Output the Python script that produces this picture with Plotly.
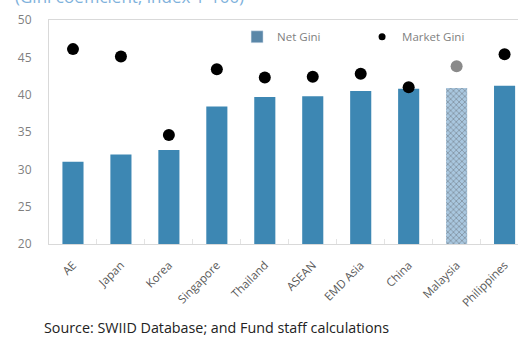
import plotly.graph_objects as go

categories = ["AE", "Japan", "Korea", "Singapore", "Thailand", "ASEAN", "EMD Asia", "China", "Malaysia", "Philippines"]
net_gini = [31.0, 32.0, 32.6, 38.4, 39.7, 39.8, 40.5, 40.8, 40.9, 41.2]
market_gini = [46.1, 45.1, 34.6, 43.4, 42.3, 42.4, 42.8, 41.0, 43.8, 45.4]
highlight = "Malaysia"

bar_main = "#3d87b3"
bar_light = "#a9c7df"
dot_main = "#000000"
dot_light = "#8a8a8a"

bar_colors = [bar_light if c == highlight else bar_main for c in categories]
dot_colors = [dot_light if c == highlight else dot_main for c in categories]
patterns = ["x" if c == highlight else "" for c in categories]

fig = go.Figure()
fig.add_trace(go.Bar(
    x=categories, y=net_gini, name="Net Gini",
    marker=dict(color=bar_colors, line=dict(width=0),
                pattern=dict(shape=patterns, fgcolor="#c4d9ea", size=4, solidity=0.3)),
    width=0.44, showlegend=False,
))
fig.add_trace(go.Scatter(
    x=categories, y=market_gini, mode="markers", name="Market Gini",
    marker=dict(color=dot_colors, size=12), showlegend=False,
))
# legend proxies
fig.add_trace(go.Bar(x=[None], y=[None], name="Net Gini", marker=dict(color="#5a87a8")))
fig.add_trace(go.Scatter(x=[None], y=[None], mode="markers", name="Market Gini",
                         marker=dict(color="#000000", size=7)))

font = "Open Sans, Liberation Sans, sans-serif"
fig.update_layout(
    width=518, height=347,
    margin=dict(l=49, r=0, t=20, b=103),
    paper_bgcolor="white", plot_bgcolor="white",
    font=dict(family=font, size=11, color="#595959"),
    barmode="overlay",
    legend=dict(orientation="h", x=0.401, y=0.925, xanchor="left", yanchor="middle",
                bgcolor="rgba(0,0,0,0)", font=dict(size=11.5, color="#7f7f7f"),
                traceorder="normal", entrywidth=80, entrywidthmode="pixels",
                itemwidth=30),
    xaxis=dict(range=[-0.5, 9.28], tickangle=-45, showgrid=False, automargin=False,
               showline=True, linecolor="#d9d9d9", mirror=True,
               tickson="boundaries", ticks="inside", ticklen=5, tickcolor="#e3e3e3",
               ticklabelstandoff=9,
               tickfont=dict(size=11.5, color="#595959"),
               fixedrange=True),
    yaxis=dict(range=[20, 50], dtick=5, showgrid=False, automargin=False,
               showline=True, linecolor="#d9d9d9", mirror=True,
               ticks="", tickfont=dict(size=12, color="#7f7f7f"),
               ticklabelstandoff=14, fixedrange=True),
)
fig.add_annotation(text="(Gini coefficient; index 1-100)", xref="paper", yref="paper",
                   x=-36/469, y=1.0, yshift=24, xanchor="left", yanchor="middle",
                   showarrow=False, font=dict(size=17, color="#7fb2dc", family=font))
fig.add_annotation(text="Source: SWIID Database; and Fund staff calculations",
                   xref="paper", yref="paper", x=-7/469, y=0, yshift=-83,
                   xanchor="left", yanchor="middle", showarrow=False,
                   font=dict(size=14.3, color="#222222", family=font))
fig.write_html("out.html", config={"displayModeBar": False},
               post_script="document.body.style.margin='0';")
